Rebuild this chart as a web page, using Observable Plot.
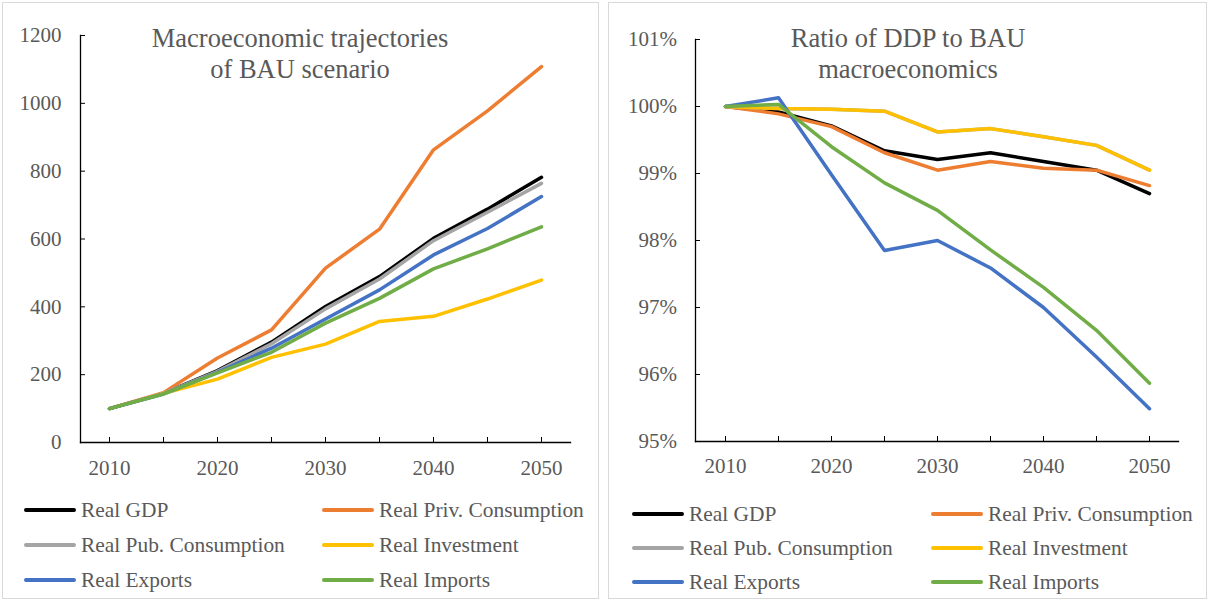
<!DOCTYPE html>
<html>
<head>
<meta charset="utf-8">
<script src="https://cdn.jsdelivr.net/npm/d3@7"></script>
<script src="https://cdn.jsdelivr.net/npm/@observablehq/plot@0.6"></script>
<style>
  html, body { margin: 0; padding: 0; background: #fff; }
  #wrap { position: relative; width: 1207px; height: 599px; overflow: hidden; background: #fff;
          font-family: "Liberation Serif", "Times New Roman", serif; color: #595959; }
  #wrap svg, #wrap svg text { font-family: "Liberation Serif", "Times New Roman", serif !important; font-size: 21px !important; }
  .panel { position: absolute; border: 1px solid #d9d9d9; box-sizing: border-box; }
  .chart { position: absolute; top: 0; }
  .title { position: absolute; text-align: center; font-size: 26.5px; line-height: 31px; color: #595959; white-space: nowrap; transform: translateX(-50%); }
  .leg { position: absolute; height: 24px; display: flex; align-items: center; font-size: 21.4px; white-space: nowrap; }
  .sw { display: inline-block; width: 52px; height: 4px; border-radius: 2px; margin-right: 5px; }
</style>
</head>
<body>
<div id="wrap">
  <div class="panel" style="left:2px;top:2px;width:597px;height:597px"></div>
  <div class="panel" style="left:608px;top:2px;width:599px;height:597px"></div>
  <div id="left" class="chart" style="left:0px"></div>
  <div id="right" class="chart" style="left:609px"></div>
  <div class="title" style="left:300px;top:23px">Macroeconomic trajectories<br>of BAU scenario</div>
  <div class="title" style="left:908px;top:23px">Ratio of DDP to BAU<br>macroeconomics</div>
  <div id="legL"></div>
  <div id="legR"></div>
</div>
<script>
// ---- data ----
const years = [2010, 2015, 2020, 2025, 2030, 2035, 2040, 2045, 2050];
const seriesNames = ["Real GDP", "Real Priv. Consumption", "Real Pub. Consumption", "Real Investment", "Real Exports", "Real Imports"];
const seriesColors = ["#000000", "#ED7D31", "#A5A5A5", "#FFC000", "#4472C4", "#70AD47"];

// BAU trajectories (index, 2010 = 100)
const bauGDP  = [100, 145, 212, 296, 401, 489, 602, 688, 782];
const bauPriv = [100, 147, 249, 332, 514, 629, 863, 978, 1108];
const bauPub  = [100, 145, 210, 291, 394, 482, 595, 679, 764];
const bauInv  = [100, 145, 187, 251, 290, 357, 372, 423, 479];
const bauExp  = [100, 143, 207, 278, 364, 450, 553, 631, 725];
const bauImp  = [100, 143, 205, 266, 352, 425, 512, 571, 636];

// Ratio of DDP to BAU (%)
const ratGDP  = [100, 99.92, 99.71, 99.34, 99.21, 99.31, 99.18, 99.05, 98.70];
const ratPriv = [100, 99.89, 99.70, 99.31, 99.05, 99.18, 99.08, 99.05, 98.82];
const ratPub  = [100, 99.97, 99.96, 99.93, 99.62, 99.67, 99.55, 99.42, 99.05];
const ratInv  = [100, 99.97, 99.96, 99.93, 99.62, 99.67, 99.55, 99.42, 99.05];
const ratExp  = [100, 100.13, 98.98, 97.85, 98.00, 97.59, 97.00, 96.26, 95.49];
const ratImp  = [100, 100.03, 99.40, 98.86, 98.45, 97.86, 97.30, 96.66, 95.87];

const yTicksLeft = [0, 200, 400, 600, 800, 1000, 1200];
const yTicksRight = [95, 96, 97, 98, 99, 100, 101];
const xLabelYears = [2010, 2020, 2030, 2040, 2050];

// ---- build tables ----
function toLong(arrays) {
  const out = [];
  arrays.forEach((arr, i) => arr.forEach((v, j) => out.push({series: seriesNames[i], year: years[j], value: v})));
  return out;
}
const bauData = toLong([bauGDP, bauPriv, bauPub, bauInv, bauExp, bauImp]);
const ratData = toLong([ratGDP, ratPriv, ratPub, ratInv, ratExp, ratImp]);

function makeChart(data, opts) {
  return Plot.plot({
    width: opts.width, height: 480,
    marginLeft: opts.ml, marginRight: opts.mr, marginTop: opts.mt, marginBottom: 480 - opts.bottom,
    style: "background: transparent; font-family: 'Liberation Serif', serif; font-size: 21px; color: #595959; overflow: visible;",
    x: {type: "point", domain: years, padding: 0.5, label: null},
    y: {domain: opts.ydomain, label: null},
    color: {domain: seriesNames, range: seriesColors},
    marks: [
      Plot.frame({anchor: "left", stroke: "#000", strokeWidth: 1.3}),
      Plot.frame({anchor: "bottom", stroke: "#000", strokeWidth: 1.3}),
      Plot.axisY({ticks: opts.yticks, tickSize: -5, tickPadding: opts.ytp, stroke: "#000", fill: "#595959", tickFormat: opts.yfmt, label: null}),
      Plot.axisX({ticks: years, tickSize: -5, tickPadding: opts.xtp, stroke: "#000", fill: "#595959", tickFormat: d => xLabelYears.includes(d) ? String(d) : "", label: null}),
      Plot.line(data, {x: "year", y: "value", z: "series", stroke: "series", strokeWidth: 3.5, strokeLinejoin: "round", strokeLinecap: "round"})
    ]
  });
}

document.getElementById("left").append(makeChart(bauData, {
  width: 600, ml: 80, mr: 30, mt: 35, bottom: 442, ydomain: [0, 1200], yticks: yTicksLeft, ytp: 24, xtp: 23, yfmt: d => String(d)
}));
document.getElementById("right").append(makeChart(ratData, {
  width: 598, ml: 86, mr: 29, mt: 39, bottom: 441, ydomain: [95, 101], yticks: yTicksRight, ytp: 23.5, xtp: 22, yfmt: d => d + "%"
}));

// ---- legends ----
function legend(id, cols, rows) {
  const el = document.getElementById(id);
  seriesNames.forEach((name, i) => {
    const d = document.createElement("div");
    d.className = "leg";
    d.style.left = cols[i % 2] + "px";
    d.style.top = (rows[Math.floor(i / 2)] - 12) + "px";
    const sw = document.createElement("span");
    sw.className = "sw";
    sw.style.background = seriesColors[i];
    d.append(sw, document.createTextNode(name));
    el.append(d);
  });
}
legend("legL", [24, 322], [510, 545, 580]);
legend("legR", [632, 931], [514, 548, 582]);
</script>
</body>
</html>
